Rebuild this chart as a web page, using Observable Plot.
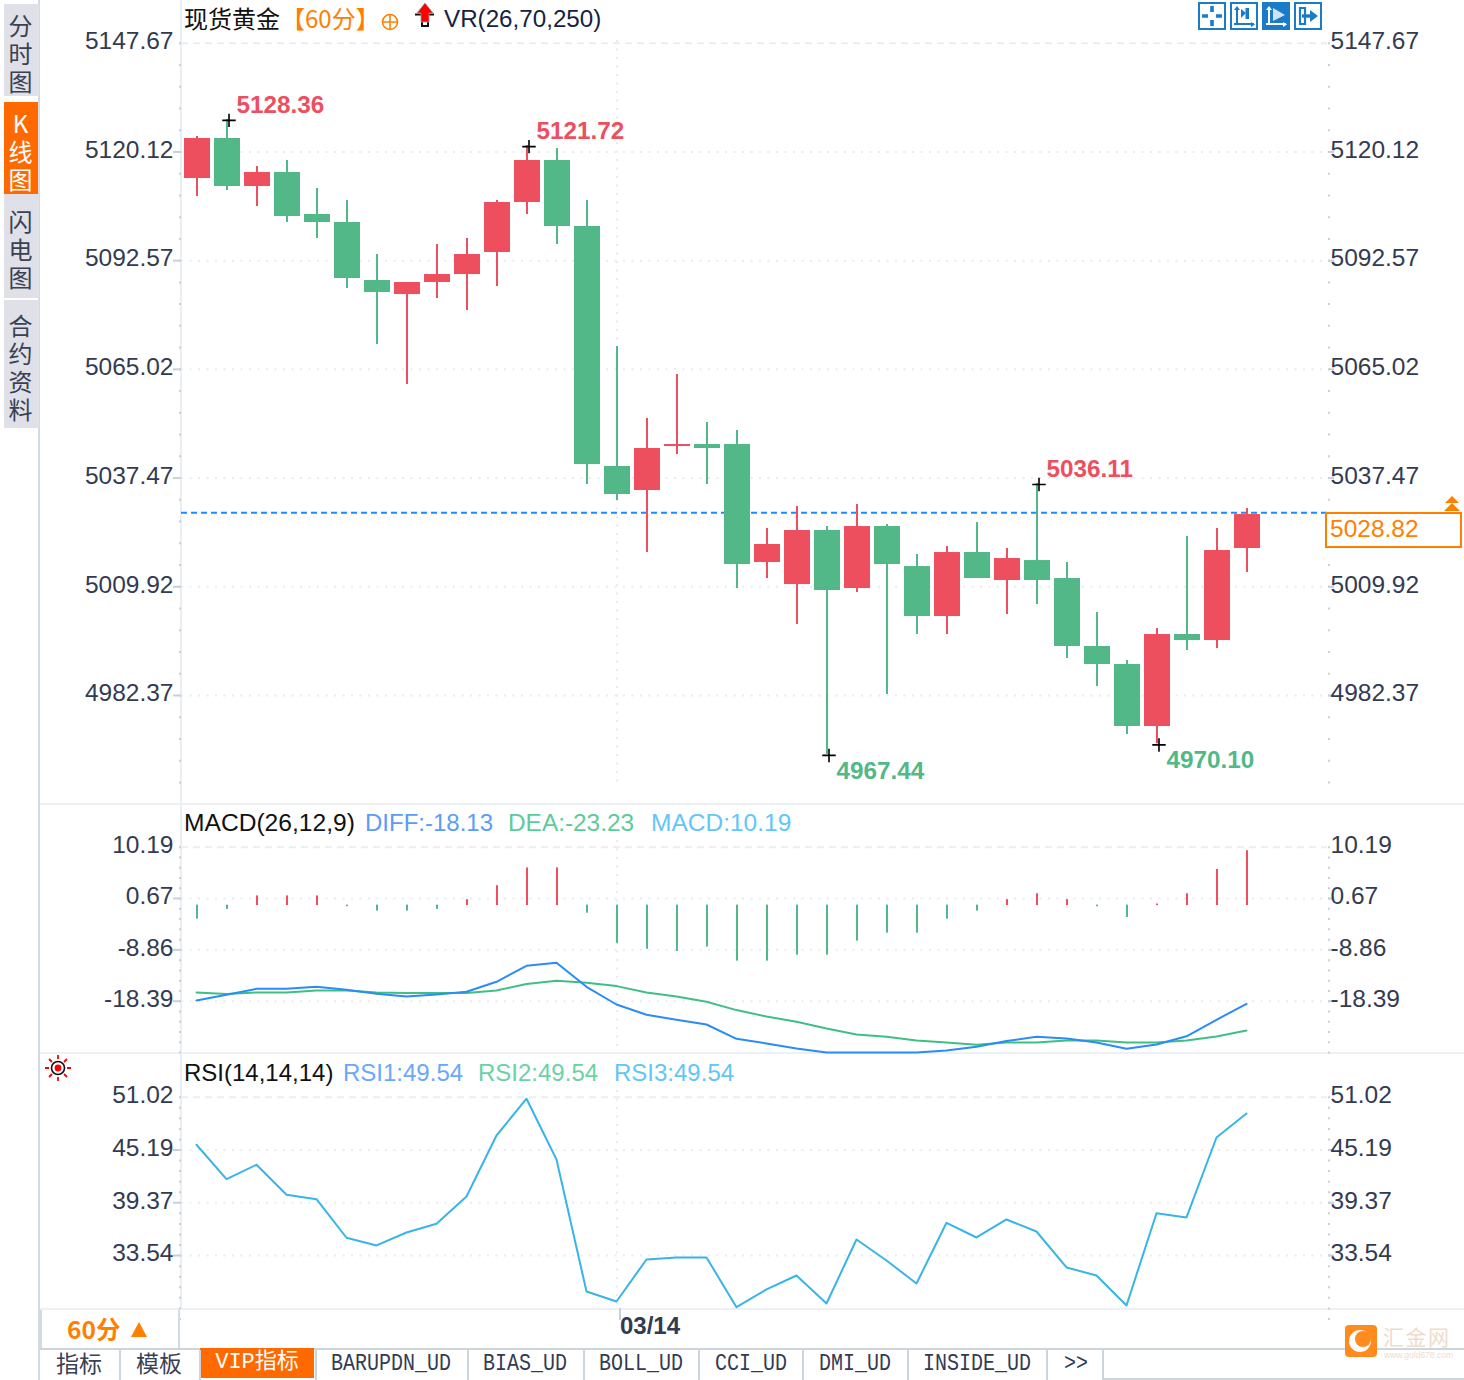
<!DOCTYPE html>
<html lang="zh">
<head>
<meta charset="utf-8">
<script src="https://cdn.jsdelivr.net/npm/d3@7"></script>
<script src="https://cdn.jsdelivr.net/npm/@observablehq/plot@0.6"></script>
<style>
html,body{margin:0;padding:0;background:#fff;overflow:hidden}
#root{position:relative;width:1464px;height:1380px;overflow:hidden;font-family:"Liberation Sans",Arial,sans-serif}
#root>svg{position:absolute;left:0;top:0}
.t{position:absolute;white-space:nowrap;line-height:1}
.b{position:absolute;box-sizing:border-box}
</style>
</head>
<body>
<div id="root"></div>
<script>
// ---------- data ----------
const opens  = [5113.38,5123.52,5111.35,5114.90,5104.26,5102.23,5087.53,5083.98,5087.03,5089.05,5094.63,5107.30,5117.94,5101.22,5040.40,5034.31,5045.46,5045.97,5045.97,5016.07,5010.49,5024.18,5009.48,5025.19,5015.05,5002.38,5018.60,5011.51,5016.57,5012.01,4994.78,4990.22,4974.51,4997.82,4996.30,5019.62];
const closes = [5123.52,5111.35,5114.90,5103.75,5102.23,5088.04,5084.49,5087.03,5089.05,5094.12,5107.30,5117.94,5101.22,5040.90,5033.30,5044.96,5045.97,5044.96,5015.56,5020.63,5024.18,5008.97,5025.19,5015.56,5002.38,5018.60,5012.01,5017.08,5011.51,4994.78,4990.22,4974.51,4997.82,4996.30,5019.11,5028.23];
const highs  = [5124.02,5128.36,5116.42,5117.94,5110.85,5107.81,5094.12,5087.03,5096.66,5098.18,5107.81,5121.72,5120.98,5107.81,5070.81,5052.56,5063.71,5051.55,5049.52,5024.68,5030.26,5025.19,5030.77,5025.70,5018.10,5020.12,5026.20,5019.62,5036.11,5016.07,5003.40,4991.23,4999.34,5022.66,5024.68,5029.75];
const lows   = [5108.82,5110.34,5106.29,5102.23,5098.18,5085.51,5071.31,5061.18,5082.97,5079.93,5086.01,5104.26,5096.66,5035.83,5031.78,5018.60,5043.44,5035.83,5009.48,5012.01,5000.36,4967.44,5008.47,4982.62,4997.82,4997.82,5012.01,5002.89,5005.42,4991.74,4984.64,4972.48,4970.10,4993.77,4994.27,5013.53];
const macdHist = [-2.6,-0.8,1.8,1.8,1.8,-0.3,-1.1,-1.1,-0.8,1.1,3.7,7.0,7.0,-1.5,-7.1,-8.2,-8.6,-7.8,-10.4,-10.4,-9.3,-9.3,-6.7,-5.2,-5.2,-2.6,-1.1,1.1,2.2,1.1,-0.3,-2.3,0.3,2.2,6.7,10.19];
const diffLine = [-18.26,-17.20,-16.09,-16.09,-15.72,-16.27,-17.02,-17.52,-17.15,-16.64,-14.79,-11.82,-11.26,-15.72,-19.00,-20.91,-21.84,-22.71,-25.37,-26.24,-27.17,-27.91,-27.91,-27.91,-27.91,-27.54,-26.85,-25.79,-25.00,-25.31,-26.05,-27.22,-26.42,-24.90,-21.84,-18.87];
const deaLine  = [-16.77,-17.07,-16.77,-16.77,-16.40,-16.40,-16.77,-16.89,-16.89,-16.89,-16.40,-15.21,-14.60,-14.97,-15.59,-16.77,-17.52,-18.50,-20.04,-21.23,-22.21,-23.46,-24.57,-25.00,-25.68,-26.05,-26.48,-26.05,-26.05,-25.68,-25.68,-26.05,-26.05,-25.68,-24.94,-23.83];
const rsiLine  = [45.77,41.97,43.56,40.24,39.76,35.50,34.65,36.08,37.04,40.06,46.79,50.85,44.14,29.57,28.46,33.10,33.32,33.32,27.83,29.79,31.33,28.24,35.31,32.99,30.45,37.15,35.53,37.52,36.19,32.22,31.33,28.02,38.21,37.74,46.57,49.22];
const priceTicks = [5147.67,5120.12,5092.57,5065.02,5037.47,5009.92,4982.37];
const macdTicks  = [10.19,0.67,-8.86,-18.39];
const rsiTicks   = [51.02,45.19,39.37,33.54];
const extremes = [
  {i:1,  v:5128.36, c:"up",   dx:9,  dy:-14},
  {i:11, v:5121.72, c:"up",   dx:9,  dy:-14},
  {i:28, v:5036.11, c:"up",   dx:9,  dy:-14},
  {i:21, v:4967.44, c:"down", dx:9,  dy:17},
  {i:32, v:4970.10, c:"down", dx:9,  dy:16}
];
const lastPrice = 5028.82;
const dateIndex = 14, dateLabel = "03/14";

// ---------- styles ----------
const RED="#ed4f5f", GREEN="#53b888", AXIS="#333b52", GRID="#e9ecef", DIFFC="#2a8cf5", DEAC="#3fbf85", RSIC="#38b4e8", ORANGE="#ff8000";
const idx = d3.range(opens.length);
const candles = idx.map(i=>({i,open:opens[i],close:closes[i],high:highs[i],low:lows[i],up:closes[i]>=opens[i]}));
const xScale = {type:"band",domain:idx,range:[182,1262],paddingInner:0.1333,paddingOuter:0.0667,axis:null};
const fmt = d=>d.toFixed(2);

function frameMarks(ticks, minor){
  const tickMarks = ticks.slice(1);
  return [
    Plot.gridY(ticks.slice(1),{stroke:GRID,strokeOpacity:1,strokeWidth:2,strokeDasharray:"2,6.5"}),
    Plot.gridY(ticks.slice(0,1),{stroke:"#e9eef2",strokeOpacity:1,strokeWidth:2,strokeDasharray:"7,5"}),
    Plot.gridX([dateIndex],{stroke:GRID,strokeOpacity:1,strokeWidth:2,strokeDasharray:"2,6.5",dx:-0.5}),
    Plot.axisY(minor,{anchor:"left",tickSize:2,tickFormat:()=>"",stroke:"#c9d0d8",strokeWidth:2,label:null}),
    Plot.axisY(minor,{anchor:"right",tickSize:2,tickFormat:()=>"",stroke:"#c9d0d8",strokeWidth:2,label:null}),
    Plot.axisY(tickMarks,{anchor:"left",tickSize:8,tickFormat:()=>"",stroke:"#c9d0d8",strokeWidth:2,label:null}),
    Plot.axisY(tickMarks,{anchor:"right",tickSize:6,tickFormat:()=>"",stroke:"#c9d0d8",strokeWidth:2,label:null}),
    Plot.axisY(ticks,{anchor:"left",tickSize:0,tickPadding:8,dy:-2,tickFormat:fmt,fontSize:24.5,fill:AXIS,label:null}),
    Plot.axisY(ticks,{anchor:"right",tickSize:0,tickPadding:3,dy:-2,tickFormat:fmt,fontSize:24.5,fill:AXIS,label:null})
  ];
}
function panel(height,top,bottom,yScale,marks){
  return Plot.plot({
    width:1464,height,marginLeft:181,marginRight:137,marginTop:top,marginBottom:height-bottom,
    x:xScale,y:{...yScale,axis:null},
    style:{fontFamily:'"Liberation Sans",Arial,sans-serif',background:"transparent",maxWidth:"none",overflow:"visible"},
    marks
  });
}

const root = document.getElementById("root");
function div(x,y,w,h,bg,extra=""){
  const d=document.createElement("div");d.className="b";
  d.style.cssText=`left:${x}px;top:${y}px;width:${w}px;height:${h}px;background:${bg};${extra}`;
  root.appendChild(d);return d;
}
function txt(x,cy,s,color,size=24.5,extra=""){
  const d=document.createElement("div");d.className="t";d.textContent=s;
  d.style.cssText=`left:${x}px;top:${cy-size/2}px;font-size:${size}px;color:${color};${extra}`;
  root.appendChild(d);return d;
}
function svgAt(x,y,w,h,inner){
  const d=document.createElement("div");d.className="b";
  d.style.cssText=`left:${x}px;top:${y}px;width:${w}px;height:${h}px`;
  d.innerHTML=`<svg width="${w}" height="${h}" viewBox="0 0 ${w} ${h}" style="display:block">${inner}</svg>`;
  root.appendChild(d);return d;
}

// ---------- panel frame ----------
div(38,0,2,1380,"#d2dae2");
div(180,0,2,1309,"#e9eef2");
div(40,803,1424,2,"#edf1f5");
div(40,1052,1424,2,"#edf1f5");
div(40,1308,1424,2,"#edf1f5");

// ---------- main panel ----------
const mainPlot = panel(800,40,785,{domain:[5147.67,4982.37],range:[42.7,695]},[
  ...frameMarks(priceTicks,d3.range(5147.67,4958,-5.51)),
  Plot.ruleY([lastPrice],{stroke:"#1a8cff",strokeWidth:2,strokeDasharray:"6,4",dy:0.5}),
  Plot.ruleX(candles,{x:"i",y1:"low",y2:"high",stroke:RED,strokeWidth:2,dx:-0.5,filter:d=>d.up}),
  Plot.ruleX(candles,{x:"i",y1:"low",y2:"high",stroke:GREEN,strokeWidth:2,dx:-0.5,filter:d=>!d.up}),
  Plot.barY(candles,{x:"i",y1:"open",y2:"close",fill:RED,filter:d=>d.up}),
  Plot.barY(candles,{x:"i",y1:"open",y2:"close",fill:GREEN,filter:d=>!d.up}),
  Plot.dot(extremes,{x:"i",y:"v",symbol:"plus",r:4.4,stroke:"#000",strokeWidth:1.6,dx:1.5,dy:1}),
  ...extremes.map(e=>Plot.text([e],{x:"i",y:"v",text:d=>d.v.toFixed(2),dx:e.dx,dy:e.dy,textAnchor:"start",fontSize:24.3,fontWeight:"bold",fill:e.c==="up"?RED:GREEN}))
]);
root.appendChild(mainPlot);

// ---------- MACD panel ----------
const macdRows = idx.map(i=>({i,h:macdHist[i],d:diffLine[i],e:deaLine[i]}));
const macdPlot = panel(1060,840,1046,{domain:[10.19,-18.39],range:[846.7,1000.7]},[
  ...frameMarks(macdTicks,d3.range(10.19,-28.5,-1.906)),
  Plot.ruleX(macdRows,{x:"i",y1:0,y2:"h",dy:3.5,dx:-0.5,stroke:RED,strokeWidth:2,filter:d=>d.h>=0}),
  Plot.ruleX(macdRows,{x:"i",y1:0,y2:"h",dy:3,dx:-0.5,stroke:GREEN,strokeWidth:2,filter:d=>d.h<0}),
  Plot.lineY(macdRows,{x:"i",y:"e",stroke:DEAC,strokeWidth:2,dx:-1}),
  Plot.lineY(macdRows,{x:"i",y:"d",stroke:DIFFC,strokeWidth:2,dx:-1})
]);
root.appendChild(macdPlot);

// ---------- RSI panel + date axis ----------
const rsiRows = idx.map(i=>({i,r:rsiLine[i]}));
const rsiPlot = panel(1345,1090,1308,{domain:[51.02,33.54],range:[1096.7,1255]},[
  ...frameMarks(rsiTicks,d3.range(51.02,26,-1.166)),
  Plot.lineY(rsiRows,{x:"i",y:"r",stroke:RSIC,strokeWidth:2,dx:-1}),
  Plot.axisX([dateIndex],{anchor:"bottom",tickSize:12,tickPadding:-4,dx:2.5,stroke:"#c9d0d8",strokeWidth:2,tickFormat:()=>dateLabel,textAnchor:"start",fontSize:24,fontWeight:"bold",fill:AXIS,label:null})
]);
root.appendChild(rsiPlot);

// ---------- headers ----------
const CJK='"Noto Sans CJK SC","Liberation Sans",sans-serif';
txt(184,18,"现货黄金","#111",24,`font-family:${CJK}`);
txt(281,18,"【60分】",ORANGE,24,`font-family:${CJK}`);
svgAt(381,13,18,18,`<circle cx="9" cy="9" r="7.5" fill="none" stroke="${ORANGE}" stroke-width="1.6"/><path d="M1.5 9H16.5M9 1.5V16.5" stroke="${ORANGE}" stroke-width="1.6"/>`);
svgAt(412,0,26,28,`<path d="M3 14.5H22" stroke="#111" stroke-width="2"/><path d="M10 22V26H16V22" fill="none" stroke="#111" stroke-width="2"/><path d="M13 3L5 13H9V22H17V13H21Z" fill="#f00" stroke="#999" stroke-width="0.8"/>`);
txt(444,19,"VR(26,70,250)","#16233f",24.2);
txt(184,823,"MACD(26,12,9)","#111",24.6);
txt(365,823,"DIFF:-18.13","#5a9df8",24);
txt(508,823,"DEA:-23.23","#5ccb9b",24.4);
txt(651,823,"MACD:10.19","#62c6f6",24.5);
txt(184,1073,"RSI(14,14,14)","#111",24);
txt(343,1073,"RSI1:49.54","#6aa8fb",24);
txt(478,1073,"RSI2:49.54","#6bd2a5",24);
txt(614,1073,"RSI3:49.54","#62c6f6",24);

// ---------- price tag ----------
div(1325,512,137,36,"#fff",`border:2px solid ${ORANGE};`);
txt(1330,529,lastPrice.toFixed(2),ORANGE,24.5);
svgAt(1443,495,18,18,`<path d="M9 1L16 8H2Z" fill="${ORANGE}"/><path d="M9 8L17 16H1Z" fill="${ORANGE}"/>`);

// ---------- toolbar icons ----------
const BLUE="#1a7bc9";
[1198,1230,1262,1294].forEach((x,k)=>{
  const filled=k===2;
  const glyph=[
    `<path d="M14 4V10M14 18V24M4 14H10M18 14H24" stroke="${BLUE}" stroke-width="3.6"/>`,
    `<path d="M7 5V23M4 22H24" stroke="${BLUE}" stroke-width="2" fill="none"/><path d="M4 8L7 4L10 8ZM21 20L21 25L25 22.5Z" fill="${BLUE}"/><path d="M17 6V17" stroke="${BLUE}" stroke-width="3"/><path d="M16 11L11 7V16Z" fill="${BLUE}"/><path d="M18 6V17" stroke="${BLUE}" stroke-width="2"/>`,
    `<path d="M7 5V23M4 22H24" stroke="#fff" stroke-width="2" fill="none"/><path d="M4 8L7 4L10 8ZM21 20L21 25L25 22.5Z" fill="#fff"/><path d="M11 6V19L23 13Z" fill="#cfe3f5"/>`,
    `<path d="M6 6H11V22H6Z" stroke="${BLUE}" stroke-width="2.2" fill="none"/><path d="M8 14H17" stroke="${BLUE}" stroke-width="3.4"/><path d="M16 8L24 14L16 20Z" fill="${BLUE}"/>`
  ][k];
  svgAt(x,2,28,28,`<rect x="1" y="1" width="26" height="26" fill="${filled?BLUE:"#fff"}" stroke="${BLUE}" stroke-width="2"/>${glyph}`);
});

// ---------- left tabs ----------
div(4,4,35,92,"#dfe0e8");
div(4,102,34,92,"#ff6a00");
div(4,194,35,104,"#dfe0e8");
div(4,300,35,128,"#dfe0e8");
function sideTab(top,label,color){
  const d=document.createElement("div");d.className="t";d.textContent=label;
  d.style.cssText=`left:8px;top:${top}px;font:24px/24px ${CJK};letter-spacing:4px;writing-mode:vertical-rl;text-orientation:upright;color:${color}`;
  root.appendChild(d);
}
sideTab(14,"分时图","#3a4152");
sideTab(112,"K线图","#fff");
sideTab(210,"闪电图","#3a4152");
sideTab(314,"合约资料","#3a4152");

// ---------- sun icon ----------
svgAt(44,1054,28,28,`<circle cx="14" cy="14" r="6.5" fill="#fff" stroke="#111" stroke-width="1.6"/><circle cx="14" cy="14" r="3.4" fill="#f00"/><path d="M14 1V5M14 23V27M1 14H5M23 14H27M5 5L8 8M20 20L23 23M23 5L20 8M8 20L5 23" stroke="#f00" stroke-width="1.8"/>`);

// ---------- bottom bar ----------
div(40,1310,140,38,"#fff","border-left:2px solid #d2dae2;border-right:2px solid #d2dae2;");
div(40,1348,1424,2,"#ccd5dc");
txt(67,1329,"60分",ORANGE,24.5,`font-family:${CJK};font-weight:700`);
svgAt(130,1321,18,17,`<path d="M9 1L17 16H1Z" fill="${ORANGE}"/>`);
div(200,1348,114,30,"#ff6a00");
[119,199,315,467,583,698,802,907,1046].forEach(x=>div(x,1350,2,30,"#ccd5dc"));
div(1102,1350,2,29,"#ccd5dc");
div(1102,1378,362,2,"#ccd5dc");
const MONO='"Liberation Mono",monospace';
function tab(cx,cy,s,color,font,size,extra=""){return txt(cx,cy,s,color,size,`font-family:${font};transform:translateX(-50%) ${extra}`);}
tab(79,1362.5,"指标","#3a4152",CJK,23);
tab(159,1362.5,"模板","#3a4152",CJK,23);
tab(257,1362.5,"VIP指标","#fff",`${MONO},"Noto Sans CJK SC"`,22);
[["BARUPDN_UD",391],["BIAS_UD",525],["BOLL_UD",641],["CCI_UD",751],["DMI_UD",855],["INSIDE_UD",977],[">>",1076]]
  .forEach(([s,cx])=>tab(cx,1364,s,"#333b52",MONO,20,"scaleY(1.2)"));

// ---------- watermark ----------
svgAt(1344,1324,34,34,`<rect x="1" y="1" width="32" height="32" rx="4" fill="#ff8a1e"/><circle cx="16" cy="17" r="11" fill="#fff"/><circle cx="19" cy="15" r="8" fill="#ff8a1e"/>`);
txt(1383,1336,"汇金网","#eedccd",21,`font-family:${CJK};letter-spacing:1.5px`);
txt(1384,1355.5,"www.gold678.com","#eedccd",8.5);
</script>
</body>
</html>
